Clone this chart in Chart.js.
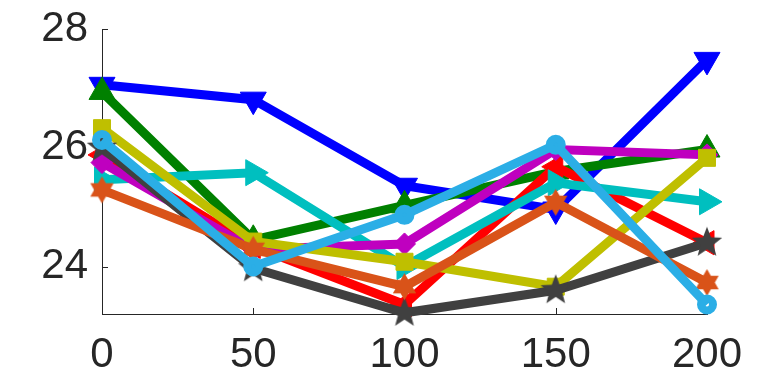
<!DOCTYPE html>
<html><head><meta charset="utf-8">
<script src="https://cdn.jsdelivr.net/npm/chart.js@4"></script>
<style>html,body{margin:0;padding:0;background:#fff;}#wrap{width:781px;height:375px;}</style>
</head><body><div id="wrap"><canvas id="c" width="781" height="375"></canvas></div>
<script>
const xValues = [0, 50, 100, 150, 200];
const xTicks = [0, 50, 100, 150, 200];
const yTicks = [24, 26, 28];
const blueSeries      = [27.06, 26.81, 25.36, 24.96, 27.48];
const greenSeries     = [26.94, 24.45, 25.03, 25.60, 25.97];
const redSeries       = [25.88, 24.34, 23.36, 25.68, 24.40];
const cyanSeries      = [25.46, 25.58, 24.00, 25.41, 25.09];
const magentaSeries   = [25.75, 24.29, 24.38, 25.97, 25.88];
const yellowSeries    = [26.33, 24.42, 24.08, 23.66, 25.83];
const darkSeries      = [26.00, 23.97, 23.22, 23.60, 24.40];
const orangeSeries    = [25.29, 24.29, 23.66, 25.08, 23.73];
const lightBlueSeries = [26.13, 24.00, 24.87, 26.05, 23.36];

function starCanvas(color, points, outer, innerRatio) {
  const size = Math.ceil(outer * 2 + 2);
  const cv = document.createElement('canvas');
  cv.width = size; cv.height = size;
  const g = cv.getContext('2d');
  const c = size / 2;
  g.fillStyle = color;
  g.beginPath();
  for (let i = 0; i < points * 2; i++) {
    const r = i % 2 === 0 ? outer : outer * innerRatio;
    const a = -Math.PI / 2 + i * Math.PI / points;
    const px = c + r * Math.cos(a), py = c + r * Math.sin(a);
    if (i === 0) g.moveTo(px, py); else g.lineTo(px, py);
  }
  g.closePath();
  g.fill();
  return cv;
}

const pentagram = starCanvas('#404040', 5, 16, 0.42);
const hexagram = starCanvas('#D95319', 6, 13.5, 0.58);

function mk(data, color, style, radius, rotation, extra) {
  return Object.assign({
    data: xValues.map((x, i) => ({x: x, y: data[i]})),
    borderColor: color,
    backgroundColor: color,
    borderWidth: 9,
    pointStyle: style,
    pointRadius: radius,
    pointRotation: rotation,
    pointBackgroundColor: color,
    pointBorderColor: color,
    pointBorderWidth: 1,
    tension: 0,
    clip: false,
    borderJoinStyle: 'miter'
  }, extra || {});
}

const datasets = [
  mk(blueSeries, '#0000FF', 'triangle', 15, 180),
  mk(greenSeries, '#008000', 'triangle', 15, 0),
  mk(redSeries, '#FF0000', 'triangle', 14, 270),
  mk(cyanSeries, '#00BFBF', 'triangle', 15, 90),
  mk(magentaSeries, '#BF00BF', 'rectRot', 11, 0),
  mk(yellowSeries, '#BFBF00', 'rect', 12, 0),
  mk(darkSeries, '#404040', pentagram, 16, 0),
  mk(orangeSeries, '#D95319', hexagram, 14, 0),
  mk(lightBlueSeries, '#2BAEE6', 'circle', 6, 0, {pointBackgroundColor: 'rgba(0,0,0,0)', pointBorderWidth: 8})
];
datasets.forEach((d, i) => { d.order = datasets.length - i; });

const innerTicks = {
  id: 'innerTicks',
  beforeDatasetsDraw(chart) {
    const ctx = chart.ctx, xs = chart.scales.x, ys = chart.scales.y;
    ctx.save();
    ctx.strokeStyle = '#262626';
    ctx.lineWidth = 1;
    xs.ticks.forEach((t, i) => {
      const px = Math.round(xs.getPixelForTick(i)) + 0.5;
      ctx.beginPath(); ctx.moveTo(px, ys.bottom); ctx.lineTo(px, ys.bottom - 6); ctx.stroke();
    });
    ys.ticks.forEach((t, i) => {
      const py = Math.round(ys.getPixelForTick(i)) + 0.5;
      ctx.beginPath(); ctx.moveTo(xs.left, py); ctx.lineTo(xs.left + 6, py); ctx.stroke();
    });
    ctx.restore();
  }
};

new Chart(document.getElementById('c'), {
  type: 'line',
  data: { datasets: datasets },
  options: {
    responsive: false,
    animation: false,
    events: [],
    layout: { padding: { top: 29, right: 74, left: 0, bottom: 0 } },
    plugins: { legend: { display: false }, tooltip: { enabled: false } },
    scales: {
      x: {
        type: 'linear', min: 0, max: 200,
        afterBuildTicks: s => { s.ticks = xTicks.map(v => ({value: v})); },
        afterFit: s => { s.height = 61; s.paddingLeft = 0; s.paddingRight = 0; },
        grid: { display: true, drawOnChartArea: false, drawTicks: false },
        border: { display: true, color: '#262626', width: 1 },
        ticks: { color: '#262626', padding: 16, maxRotation: 0, font: { family: 'Liberation Sans, Arial, sans-serif', size: 42 } }
      },
      y: {
        type: 'linear', min: 23.2, max: 28,
        afterBuildTicks: s => { s.ticks = yTicks.map(v => ({value: v})); },
        afterFit: s => { s.width = 102; s.paddingTop = 0; s.paddingBottom = 0; },
        grid: { display: true, drawOnChartArea: false, drawTicks: false },
        border: { display: true, color: '#262626', width: 1 },
        ticks: { color: '#262626', padding: 14, font: { family: 'Liberation Sans, Arial, sans-serif', size: 42 } }
      }
    }
  },
  plugins: [innerTicks]
});
</script>
</body></html>
